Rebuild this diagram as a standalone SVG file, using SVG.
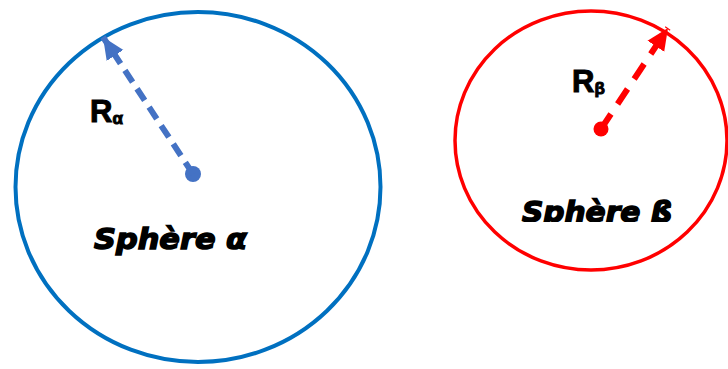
<svg xmlns="http://www.w3.org/2000/svg" width="728" height="369" viewBox="0 0 728 369">
<style>
.lbl{font-family:"Liberation Sans",Arial,sans-serif;font-weight:bold;fill:#000;stroke:#000;stroke-width:1}
.sph{font-family:"DejaVu Sans","Liberation Sans",Arial,sans-serif;font-weight:bold;font-style:italic;font-size:29px;fill:#000;stroke:#000;stroke-width:1.5}
</style>
<defs>
<marker id="ab" markerUnits="userSpaceOnUse" markerWidth="24" markerHeight="24" viewBox="0 0 24 24" refX="22" refY="12" orient="auto"><path d="M0,2 L22,12 L0,22 Z" fill="#4472C4"/></marker>
<marker id="ar" markerUnits="userSpaceOnUse" markerWidth="24" markerHeight="24" viewBox="0 0 24 24" refX="22" refY="12" orient="auto"><path d="M0,2 L22,12 L0,22 Z" fill="#FF0000"/></marker>
<clipPath id="clipB"><rect x="0" y="0" width="728" height="222"/></clipPath>
</defs>
<g id="sphere-alpha">
<ellipse cx="198" cy="187" rx="182.5" ry="175" fill="none" stroke="#0070C0" stroke-width="4"/>
<circle cx="193" cy="174" r="8" fill="#4472C4"/>
<text class="sph" x="94" y="249" textLength="153" lengthAdjust="spacingAndGlyphs">Sphère α</text>
<text class="lbl" x="90" y="122" font-size="31">R<tspan font-size="17" dy="2">α</tspan></text>
</g>
<g id="sphere-beta">
<ellipse cx="591" cy="140.5" rx="136" ry="129.5" fill="none" stroke="#FF0000" stroke-width="3.5"/>
<circle cx="601" cy="129" r="7.5" fill="#FF0000"/>
<text class="sph" x="522" y="222" clip-path="url(#clipB)" textLength="150" lengthAdjust="spacingAndGlyphs">Sphère ß</text>
<text class="lbl" x="572" y="92" font-size="31">R<tspan font-size="17" dy="2">β</tspan></text>
</g>
<g id="connectors">
<line x1="193" y1="174" x2="103" y2="37" stroke="#4472C4" stroke-width="6" stroke-dasharray="14,8" marker-end="url(#ab)"/>
<line x1="601" y1="129" x2="668" y2="28" stroke="#FF0000" stroke-width="6" stroke-dasharray="18,12" marker-end="url(#ar)"/>
</g>
</svg>
